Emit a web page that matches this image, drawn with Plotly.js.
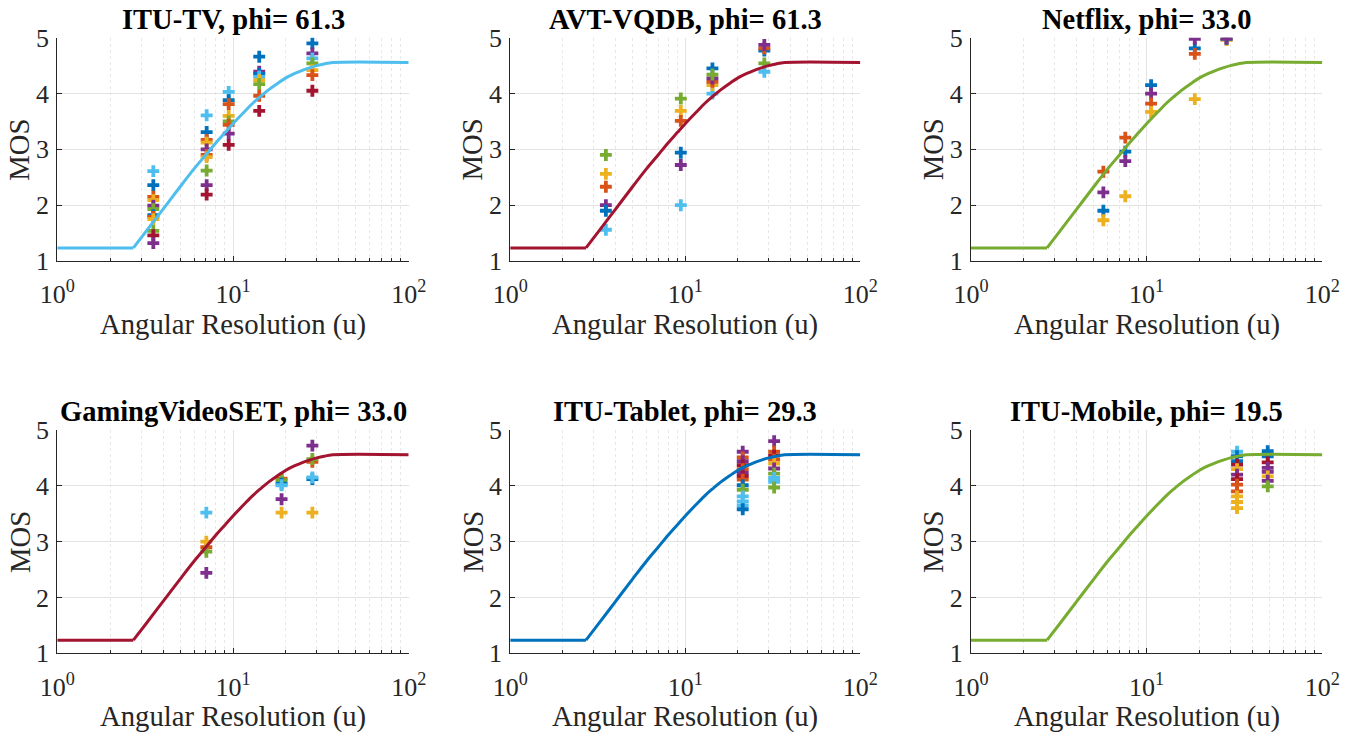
<!DOCTYPE html>
<html><head><meta charset="utf-8">
<script src="https://cdn.plot.ly/plotly-3.0.1.min.js"></script>
<style>html,body{margin:0;padding:0;background:#fff}#chart{width:1363px;height:733px}</style>
</head><body><div id="chart"></div>
<script>
// ---- data ----
const panelTitles = ["ITU-TV, phi= 61.3", "AVT-VQDB, phi= 61.3", "Netflix, phi= 33.0",
                     "GamingVideoSET, phi= 33.0", "ITU-Tablet, phi= 29.3", "ITU-Mobile, phi= 19.5"];
const xTitle = "Angular Resolution (u)";
const yTitle = "MOS";
const xTickVals = [1, 10, 100];
const xTickText = ["10<sup>0</sup>", "10<sup>1</sup>", "10<sup>2</sup>"];
const xMinorVals = [2,3,4,5,6,7,8,9,20,30,40,50,60,70,80,90];
const yTickVals = [1, 2, 3, 4, 5];

// fitted curve; the first two points are the flat floor
const curveU   = [1, 2.71, 3.2, 4, 5, 6, 7, 8, 9, 10, 11.5, 13, 14.5, 16, 18, 20, 22.5, 25, 27.5, 30, 33, 37, 100];
const curveMOS = [1.235, 1.235, 1.53, 1.93, 2.33, 2.65, 2.9, 3.12, 3.30, 3.46, 3.66, 3.83, 3.96, 4.07, 4.185, 4.28, 4.36, 4.42, 4.465, 4.5, 4.53, 4.555, 4.555];
const curveColors = ["lb", "dr", "g", "dr", "b", "g"];

const palette = {b:"#0072BD", o:"#D95319", y:"#EDB120", p:"#7E2F8E", g:"#77AC30", lb:"#4DBEEE", dr:"#A2142F"};

// ITU-TV
const itutvU   = [3.52,3.52,3.52,3.52,3.52,3.52,3.52,3.52,3.52,3.52,3.52,3.52,
                  7.08,7.08,7.08,7.08,7.08,7.08,7.08,7.08,7.08,7.08,
                  9.45,9.45,9.45,9.45,9.45,9.45,9.45,9.45,
                  14.1,14.1,14.1,14.1,14.1,14.1,14.1,14.1,
                  28.3,28.3,28.3,28.3,28.3,28.3,28.3];
const itutvMOS = [2.61,2.36,2.15,2.09,1.99,1.93,1.82,1.79,1.75,1.54,1.46,1.32,
                  3.61,3.31,3.17,3.12,3.00,2.90,2.86,2.62,2.36,2.19,
                  4.03,3.88,3.81,3.60,3.50,3.44,3.28,3.08,
                  4.66,4.39,4.35,4.30,4.24,4.17,3.96,3.69,
                  4.90,4.72,4.63,4.54,4.42,4.33,4.05];
const itutvC   = ["lb","b","o","y","p","g","b","o","y","g","dr","p",
                  "lb","b","o","y","p","o","y","g","p","dr",
                  "lb","b","o","y","g","o","p","dr",
                  "b","p","b","lb","y","g","o","dr",
                  "b","p","lb","g","y","o","dr"];
// AVT-VQDB
const avtU   = [3.52,3.52,3.52,3.52,3.52,3.52, 9.43,9.43,9.43,9.43,9.43,9.43,
                14.3,14.3,14.3,14.3,14.3,14.3, 28.3,28.3,28.3,28.3,28.3];
const avtMOS = [2.90,2.56,2.33,2.00,1.90,1.56, 3.91,3.69,3.51,2.94,2.72,2.00,
                4.00,4.15,4.21,4.27,4.45,4.34, 4.77,4.81,4.87,4.54,4.39];
const avtC   = ["g","y","o","p","b","lb", "g","y","o","b","p","lb",
                "lb","y","o","p","b","g", "b","o","p","g","lb"];
// Netflix
const nflxU   = [5.67,5.67,5.67,5.67, 7.56,7.56,7.56,7.56, 10.6,10.6,10.6,10.6,
                 18.8,18.8,18.8,18.8, 28.5,28.5,28.5,28.5];
const nflxMOS = [2.60,2.23,1.90,1.73, 3.21,2.96,2.79,2.16, 4.15,4.00,3.82,3.67,
                 4.81,4.71,4.98,3.90, 4.97,4.96,4.98,4.99];
const nflxC   = ["o","p","b","y", "o","b","p","y", "b","p","o","y",
                 "b","o","p","y", "o","y","b","p"];
// GamingVideoSET
const gameU   = [7.05,7.05,7.05,7.05,7.05, 18.9,18.9,18.9,18.9,18.9,18.9,
                 28.3,28.3,28.3,28.3,28.3,28.3];
const gameMOS = [3.52,2.90,3.00,2.82,2.44, 4.13,4.10,4.04,4.01,3.76,3.52,
                 4.72,4.43,4.48,4.12,4.15,3.52];
const gameC   = ["lb","o","y","g","p", "o","g","b","lb","p","y",
                 "p","o","g","b","lb","y"];
// ITU-Tablet
const tabU   = [21.3,21.3,21.3,21.3,21.3,21.3,21.3,21.3,21.3,21.3,21.3,21.3,21.3,21.3,
                32.2,32.2,32.2,32.2,32.2,32.2,32.2,32.2,32.2,32.2];
const tabMOS = [4.61,4.51,4.44,4.37,4.30,4.23,4.17,4.11,4.01,3.93,3.81,3.72,3.65,3.58,
                4.80,4.61,4.54,4.47,4.40,4.31,4.22,4.14,4.07,3.97];
const tabC   = ["p","o","p","dr","o","p","dr","o","b","g","lb","lb","lb","b",
                "p","o","dr","o","y","p","g","lb","lb","g"];
// ITU-Mobile
const mobU   = [32.7,32.7,32.7,32.7,32.7,32.7,32.7,32.7,32.7,32.7,32.7,32.7,
                48.9,48.9,48.9,48.9,48.9,48.9,48.9,48.9];
const mobMOS = [4.61,4.53,4.44,4.38,4.30,4.20,4.12,4.02,3.90,3.81,3.71,3.60,
                4.62,4.53,4.42,4.32,4.25,4.17,4.09,3.99];
const mobC   = ["lb","b","b","dr","y","p","dr","o","o","y","y","y",
                "b","b","dr","p","p","y","p","g"];

const panels = [[itutvU,itutvMOS,itutvC],[avtU,avtMOS,avtC],[nflxU,nflxMOS,nflxC],
                [gameU,gameMOS,gameC],[tabU,tabMOS,tabC],[mobU,mobMOS,mobC]];

// ---- layout geometry ----
const W = 1363, H = 733;
const colDom = [[57.3/W, 408.7/W],[510.2/W, 860.3/W],[971/W, 1322.3/W]];
const rowDom = [[1-261/H, 1-37.7/H],[1-653.3/H, 1-430/H]];
const FONT = "Liberation Serif, Times New Roman, serif";
const INK = "#262626";

const data = [];
const layout = {width:W, height:H, margin:{l:0,r:0,t:0,b:0}, showlegend:false,
  paper_bgcolor:"#fff", plot_bgcolor:"#fff", annotations:[]};

panels.forEach((p, i) => {
  const n = i+1, sfx = n===1 ? "" : String(n);
  const xa = "x"+sfx, ya = "y"+sfx;
  const lc = palette[curveColors[i]];
  data.push({type:"scatter", mode:"markers", x:p[0], y:p[1], xaxis:xa, yaxis:ya,
    marker:{symbol:"cross-thin", size:8.5, line:{width:3.8, color:p[2].map(c=>palette[c])}},
    hoverinfo:"x+y"});
  // flat floor (straight) + rising part (smooth)
  data.push({type:"scatter", mode:"lines", x:curveU.slice(0,2), y:curveMOS.slice(0,2), xaxis:xa, yaxis:ya,
    line:{color:lc, width:3, shape:"linear"}, hoverinfo:"skip"});
  data.push({type:"scatter", mode:"lines", x:curveU.slice(1), y:curveMOS.slice(1), xaxis:xa, yaxis:ya,
    line:{color:lc, width:3, shape:"spline", smoothing:1}, hoverinfo:"skip"});
  const col = i%3, row = Math.floor(i/3);
  layout["xaxis"+sfx] = {domain:colDom[col], anchor:ya, type:"log", range:[0,2],
    tickvals:xTickVals, ticktext:xTickText, ticks:"inside", ticklen:5, tickcolor:INK,
    showline:true, linecolor:INK, linewidth:1, showgrid:true, gridcolor:"#e3e3e3", gridwidth:1,
    zeroline:false, automargin:false, ticklabelstandoff:10,
    tickfont:{family:FONT, size:26, color:INK},
    minor:{tickvals:xMinorVals, ticks:"inside", ticklen:3, tickcolor:INK,
           showgrid:true, gridcolor:"#e8e8e8", griddash:"dot", gridwidth:1}};
  layout["yaxis"+sfx] = {domain:rowDom[row], anchor:xa, range:[1,5], tickvals:yTickVals,
    ticks:"inside", ticklen:5, tickcolor:INK, showline:true, linecolor:INK, linewidth:1,
    showgrid:true, gridcolor:"#e3e3e3", gridwidth:1, zeroline:false, automargin:false,
    ticklabelstandoff:2, tickfont:{family:FONT, size:26, color:INK}};
  layout.annotations.push({xref:xa+" domain", yref:ya+" domain", x:0.5, y:1, xanchor:"center",
    yanchor:"bottom", yshift:1, showarrow:false, text:"<b>"+panelTitles[i]+"</b>",
    font:{family:FONT, size:28.5, color:"#000"}});
  layout.annotations.push({xref:xa+" domain", yref:ya+" domain", x:0.5, y:0, xanchor:"center",
    yanchor:"top", yshift:-45, showarrow:false, text:xTitle,
    font:{family:FONT, size:28.7, color:INK}});
  layout.annotations.push({xref:xa+" domain", yref:ya+" domain", x:0, y:0.5, xanchor:"center",
    yanchor:"middle", xshift:-38, showarrow:false, text:yTitle, textangle:-90,
    font:{family:FONT, size:28.7, color:INK}});
});

Plotly.newPlot("chart", data, layout, {displayModeBar:false, staticPlot:true});
</script></body></html>
